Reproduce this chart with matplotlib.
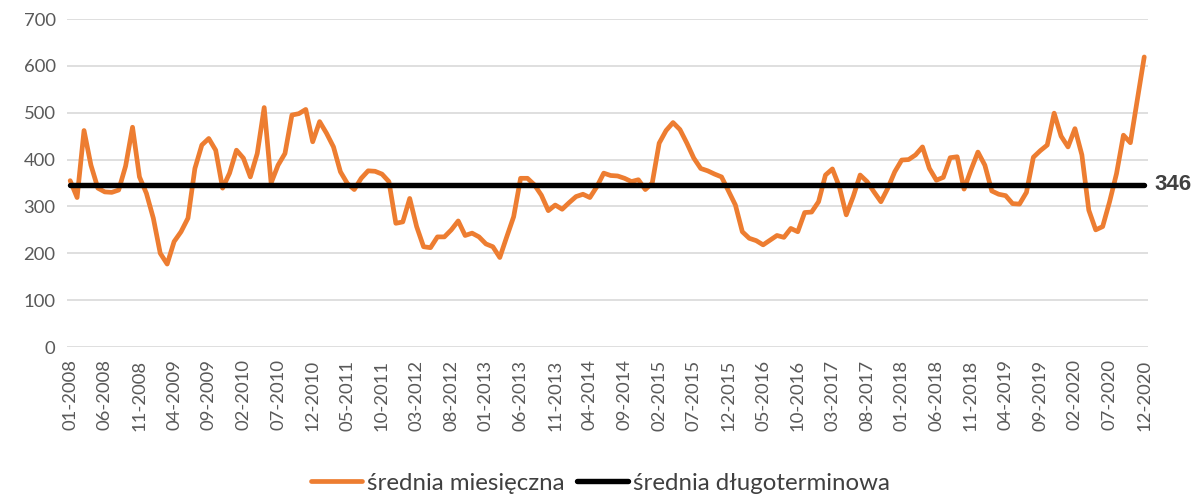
import matplotlib
matplotlib.use("Agg")
import matplotlib.pyplot as plt

plt.rcParams['font.family'] = ['Lato', 'DejaVu Sans']

# monthly averages 01-2008 .. 12-2020 (156 months)
monthly_2008 = [355, 319, 462, 388, 339, 331, 330, 335, 386, 469, 363, 328]
monthly_2009 = [275, 200, 177, 225, 246, 275, 381, 431, 445, 420, 339, 371]
monthly_2010 = [420, 403, 363, 413, 511, 350, 388, 413, 495, 498, 507, 438]
monthly_2011 = [481, 456, 427, 374, 349, 336, 360, 376, 375, 369, 353, 264]
monthly_2012 = [267, 317, 257, 214, 212, 235, 235, 250, 269, 238, 243, 235]
monthly_2013 = [220, 214, 191, 235, 278, 360, 360, 346, 324, 291, 303, 294]
monthly_2014 = [308, 321, 326, 319, 342, 371, 366, 365, 360, 353, 357, 336]
monthly_2015 = [350, 435, 462, 479, 464, 435, 403, 381, 376, 369, 363, 333]
monthly_2016 = [303, 246, 232, 227, 218, 228, 238, 234, 253, 246, 287, 288]
monthly_2017 = [310, 367, 380, 342, 282, 321, 367, 353, 331, 310, 339, 374]
monthly_2018 = [399, 400, 410, 427, 381, 356, 362, 404, 406, 337, 378, 416]
monthly_2019 = [388, 333, 326, 323, 306, 305, 330, 405, 419, 431, 499, 450]
monthly_2020 = [427, 466, 410, 292, 250, 257, 310, 370, 452, 436, 528, 619]

monthly = (monthly_2008 + monthly_2009 + monthly_2010 + monthly_2011 + monthly_2012
           + monthly_2013 + monthly_2014 + monthly_2015 + monthly_2016 + monthly_2017
           + monthly_2018 + monthly_2019 + monthly_2020)

long_term = 346

tick_labels = ["01-2008", "06-2008", "11-2008", "04-2009", "09-2009", "02-2010",
               "07-2010", "12-2010", "05-2011", "10-2011", "03-2012", "08-2012",
               "01-2013", "06-2013", "11-2013", "04-2014", "09-2014", "02-2015",
               "07-2015", "12-2015", "05-2016", "10-2016", "03-2017", "08-2017",
               "01-2018", "06-2018", "11-2018", "04-2019", "09-2019", "02-2020",
               "07-2020", "12-2020"]
tick_step = 5

legend_labels = ["średnia miesięczna", "średnia długoterminowa"]

W, H = 1201, 496
fig = plt.figure(figsize=(W / 100, H / 100), dpi=100)
left, right = 66.7 / W, 1147.7 / W
bottom, top = (H - 347) / H, (H - 19) / H
ax = fig.add_axes([left, bottom, right - left, top - bottom])

n = len(monthly)
x = list(range(n))
orange = "#ED7D31"
text_col = "#595959"

ax.plot(x, monthly, color=orange, lw=3.4, solid_joinstyle="round",
        solid_capstyle="round", label=legend_labels[0], zorder=3)
ax.plot([0, n - 1], [long_term, long_term], color="black", lw=3.9,
        solid_capstyle="round", label=legend_labels[1], zorder=4)

ax.set_xlim(-0.5, n - 0.5)
ax.set_ylim(0, 700)
ax.set_yticks(range(0, 701, 100))
ax.yaxis.grid(True, color="#D9D9D9", lw=1.2)
ax.set_axisbelow(True)
ax.set_xticks(range(0, n, tick_step))
ax.set_xticklabels(tick_labels, rotation=90)
for s in ax.spines.values():
    s.set_visible(False)
ax.tick_params(axis="both", length=0, colors=text_col, labelsize=13.3)
ax.tick_params(axis="x", pad=9)
ax.tick_params(axis="y", pad=8)

ax.annotate(str(long_term), xy=(n - 1, long_term), xytext=(7, 0),
            textcoords="offset points", va="center", ha="left",
            fontsize=16, fontweight="bold", family=["Liberation Sans", "DejaVu Sans"],
            color="#404040", annotation_clip=False)

fig.legend(loc="center", bbox_to_anchor=(0.5, 0.026), ncol=2, frameon=False,
           fontsize=17.3, handlelength=2.1, handletextpad=0.2, columnspacing=0.55,
           labelcolor="#404040")

fig.savefig("out.png", dpi=100)
